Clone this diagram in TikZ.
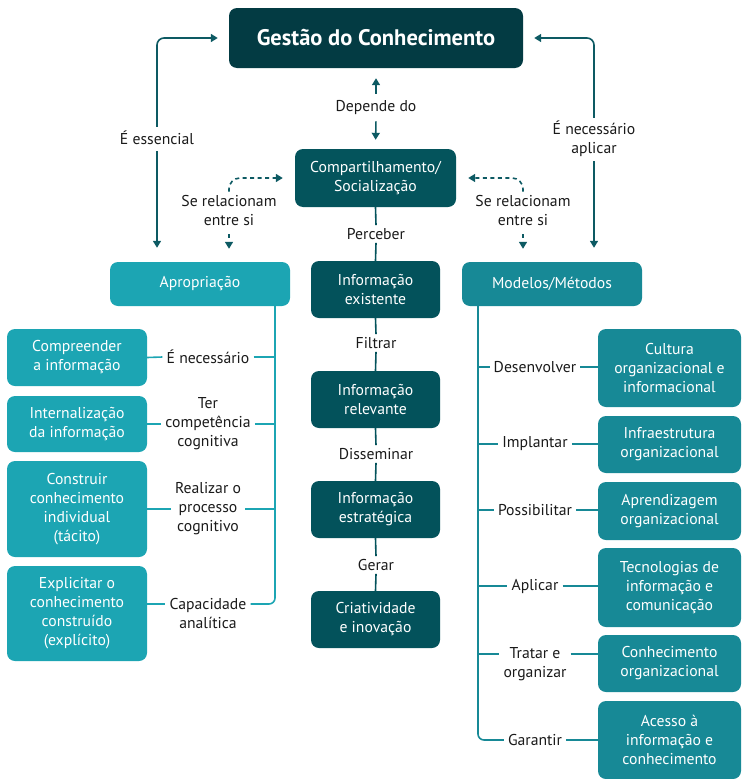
\documentclass[tikz,border=0pt]{standalone}
\usepackage{fontspec}
\setmainfont{PT Sans}
\usetikzlibrary{arrows.meta}
\definecolor{gctitle}{HTML}{033B43}
\definecolor{gcmid}{HTML}{04545C}
\definecolor{gcchain}{HTML}{03525B}
\definecolor{gclight}{HTML}{1CA5B3}
\definecolor{gcright}{HTML}{178996}
\definecolor{gcarrow}{HTML}{0D5A63}
\definecolor{gctext}{HTML}{1A1A1A}
\begin{document}
\begin{tikzpicture}[x=1pt,y=-1pt,
  font=\fontsize{15.7}{19}\selectfont,
  box/.style={rounded corners=8pt, text=white, align=center, inner sep=0pt},
  lbl/.style={text=gctext, align=center, inner xsep=4pt, inner ysep=3pt},
  tip/.style={-{Triangle[length=7pt,width=8pt]}},
  arr/.style={tip, draw=gcarrow, line width=1.6pt},
  dasharr/.style={tip, draw=gcarrow, line width=1.6pt, dash pattern=on 4pt off 3.5pt},
  chain/.style={draw=gcchain, line width=1.6pt},
  lline/.style={draw=gclight, line width=1.6pt},
  rline/.style={draw=gcright, line width=1.6pt}]
\useasboundingbox (0,0) rectangle (742,779);

% top and centre chain
\node[box, fill=gctitle, minimum width=294, minimum height=60,
      font=\fontsize{22.5}{26}\selectfont\bfseries] (gc) at (376,38) {Gestão do Conhecimento};
\node[box, fill=gcmid, minimum width=161, minimum height=58] (comp) at (375.5,178)
  {Compartilhamento/\\Socialização};
\node[box, fill=gcchain, minimum width=129, minimum height=57] (ie)  at (375.5,289.5) {Informação\\existente};
\node[box, fill=gcchain, minimum width=129, minimum height=57] (ir)  at (375.5,399.5) {Informação\\relevante};
\node[box, fill=gcchain, minimum width=129, minimum height=57] (ies) at (375.5,509.5) {Informação\\estratégica};
\node[box, fill=gcchain, minimum width=129, minimum height=57] (cri) at (375.5,619.5) {Criatividade\\e inovação};

\node[lbl] (dep) at (376,108) {Depende do};
\node[lbl] (per) at (376,234) {Perceber};
\node[lbl] (fil) at (376,343) {Filtrar};
\node[lbl] (dis) at (376,454) {Disseminar};
\node[lbl] (ger) at (376,565) {Gerar};

\draw[arr, shorten <=4pt, shorten >=10pt] (dep.north) -- (gc.south);
\draw[arr, shorten <=3pt, shorten >=9pt] (dep.south) -- (comp.north);
\draw[chain] (comp.south) -- (per.north);
\draw[chain] (per.south) -- (ie.north);
\draw[chain] (ie.south) -- (fil.north);
\draw[chain] (fil.south) -- (ir.north);
\draw[chain] (ir.south) -- (dis.north);
\draw[chain] (dis.south) -- (ies.north);
\draw[chain] (ies.south) -- (ger.north);
\draw[chain] (ger.south) -- (cri.north);

% the two branch heads
\node[box, fill=gclight, minimum width=180, minimum height=44] (apro) at (200,284) {Apropriação};
\node[box, fill=gcright, minimum width=180, minimum height=44] (mod) at (552,284) {Modelos/Métodos};

\node[lbl] (ess) at (157,138) {É essencial};
\node[lbl] (nec) at (594,139) {É necessário\\aplicar};
\node[lbl] (rel1) at (229,211) {Se relacionam\\entre si};
\node[lbl] (rel2) at (523,211) {Se relacionam\\entre si};

\draw[arr, rounded corners=7pt, shorten <=1pt, shorten >=11pt] (ess.north) |- (gc.west);
\draw[arr, shorten <=3pt, shorten >=14pt] (ess.south) -- (ess.south |- apro.north);
\draw[arr, rounded corners=7pt, shorten >=11pt] (nec.north) |- (gc.east);
\draw[arr, shorten <=1pt, shorten >=14pt] (nec.south) -- (nec.south |- apro.north);

\draw[dasharr, rounded corners=11pt, shorten <=1pt, shorten >=12pt] (rel1.north) |- (comp.west);
\draw[dasharr, rounded corners=11pt, shorten <=1pt, shorten >=12pt] (rel2.north) |- (comp.east);
\draw[dasharr, shorten <=5pt, shorten >=13pt] (rel1.south) -- (rel1.south |- apro.north);
\draw[dasharr, shorten <=5pt, shorten >=13pt] (rel2.south) -- (rel2.south |- mod.north);

% left branch
\node[box, fill=gclight, minimum width=140, minimum height=57] (b1) at (77,357.5) {Compreender\\a informação};
\node[box, fill=gclight, minimum width=140, minimum height=56] (b2) at (77,424) {Internalização\\da informação};
\node[box, fill=gclight, minimum width=140, minimum height=96] (b3) at (77,509) {Construir\\conhecimento\\individual\\(tácito)};
\node[box, fill=gclight, minimum width=140, minimum height=95] (b4) at (77,613.5) {Explicitar o\\conhecimento\\construído\\(explícito)};

\node[lbl] (l1) at (208,357) {É necessário};
\node[lbl] (l2) at (208,424) {Ter\\competência\\cognitiva};
\node[lbl] (l3) at (208,509) {Realizar o\\processo\\cognitivo};
\node[lbl] (l4) at (208,613.5) {Capacidade\\analítica};

\coordinate (j4) at (275,604);
\draw[lline, rounded corners=6pt] (apro.south -| j4) |- (l4.east |- j4);
\draw[lline] (b4.east |- j4) -- (l4.west |- j4);
\draw[lline] (b1.east) -- (l1.west);
\draw[lline] (l1.east) -- (l1.east -| j4);
\draw[lline] (b2.east) -- (l2.west);
\draw[lline] (l2.east) -- (l2.east -| j4);
\draw[lline] (b3.east) -- (l3.west);
\draw[lline] (l3.east) -- (l3.east -| j4);

% right branch
\node[box, fill=gcright, minimum width=143, minimum height=78] (r1) at (669.5,368) {Cultura\\organizacional e\\informacional};
\node[box, fill=gcright, minimum width=143, minimum height=57] (r2) at (669.5,444.5) {Infraestrutura\\organizacional};
\node[box, fill=gcright, minimum width=143, minimum height=58] (r3) at (669.5,511) {Aprendizagem\\organizacional};
\node[box, fill=gcright, minimum width=143, minimum height=79] (r4) at (669.5,587.5) {Tecnologias de\\informação e\\comunicação};
\node[box, fill=gcright, minimum width=143, minimum height=57] (r5) at (669.5,663.5) {Conhecimento\\organizacional};
\node[box, fill=gcright, minimum width=143, minimum height=78] (r6) at (669.5,740) {Acesso à\\informação e\\conhecimento};

\node[lbl] (g1) at (535,367) {Desenvolver};
\node[lbl] (g2) at (535,444) {Implantar};
\node[lbl] (g3) at (535,510) {Possibilitar};
\node[lbl] (g4) at (535,586) {Aplicar};
\node[lbl] (g5) at (535,664) {Tratar e\\organizar};
\node[lbl] (g6) at (535,740) {Garantir};

\coordinate (k6) at (478,740);
\coordinate (j5) at (478,654);
\draw[rline, rounded corners=6pt] (mod.south -| k6) |- (g6.west);
\draw[rline] (g6.east) -- (r6.west |- g6.east);
\draw[rline] (g1.west -| k6) -- (g1.west);
\draw[rline] (g1.east) -- (r1.west |- g1.east);
\draw[rline] (g2.west -| k6) -- (g2.west);
\draw[rline] (g2.east) -- (r2.west |- g2.east);
\draw[rline] (g3.west -| k6) -- (g3.west);
\draw[rline] (g3.east) -- (r3.west |- g3.east);
\draw[rline] (g4.west -| k6) -- (g4.west);
\draw[rline] (g4.east) -- (r4.west |- g4.east);
\draw[rline] (j5) -- (g5.west |- j5);
\draw[rline] (g5.east |- j5) -- (r5.west |- j5);
\end{tikzpicture}
\end{document}
